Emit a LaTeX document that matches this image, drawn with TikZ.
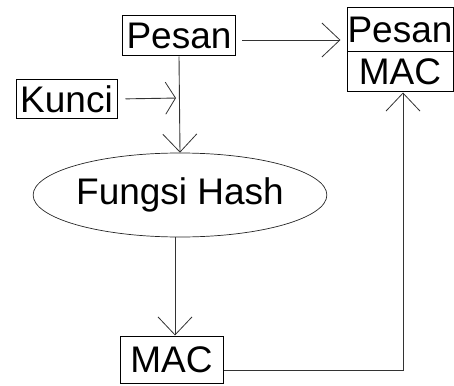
\documentclass[tikz,border=0pt]{standalone}
\usepackage{fontspec}
\setmainfont{Liberation Sans}
\usetikzlibrary{arrows.meta,shapes.geometric}
\begin{document}
\begin{tikzpicture}[x=1pt,y=-1pt,
  every node/.style={font=\fontsize{37}{42}\selectfont, inner sep=0pt},
  box/.style={draw=black, line width=1pt, rectangle},
  link/.style={draw=black!80, line width=0.9pt},
  arr/.style={link, -{Straight Barb[length=18pt,width=34pt,line width=0.8pt]}},
  arrshort/.style={link, -{Straight Barb[length=10pt,width=32pt,line width=0.8pt]}}]
  \useasboundingbox (0,0) rectangle (454,385);
  % sender side
  \node[box, minimum width=113pt, minimum height=40pt] (pesan) at (179,36) {Pesan};
  \node[box, minimum width=101pt, minimum height=38pt] (kunci) at (66.5,99) {Kunci};
  \node[draw=black!85, line width=0.7pt, ellipse, minimum width=250pt, minimum height=84pt] (hash) at (180,195) {Fungsi Hash};
  \node[box, minimum width=103pt, minimum height=47pt] (mac) at (171.5,359.5) {MAC};
  % transmitted message with its MAC
  \node[box, minimum width=106pt, minimum height=44pt] (rpesan) at (400,30) {Pesan};
  \node[box, minimum width=106pt, minimum height=40pt] (rmac) at (400,72) {MAC};
  \coordinate (join) at (179,98);
  % connectors
  \draw[arr] (pesan.south) -- (hash.north);
  \draw[arrshort, shorten <=8pt, shorten >=3pt] (kunci.east) -- (join);
  \draw[arr] ([xshift=-5pt]hash.south) -- ([xshift=3.5pt]mac.north);
  \draw[arr, shorten <=6pt, shorten >=6pt] ([yshift=-4pt]pesan.east) -- ([yshift=-10pt]rpesan.west);
  \draw[arr] ([yshift=-10.5pt]mac.east) -| ([xshift=3pt]rmac.south);
\end{tikzpicture}
\end{document}
